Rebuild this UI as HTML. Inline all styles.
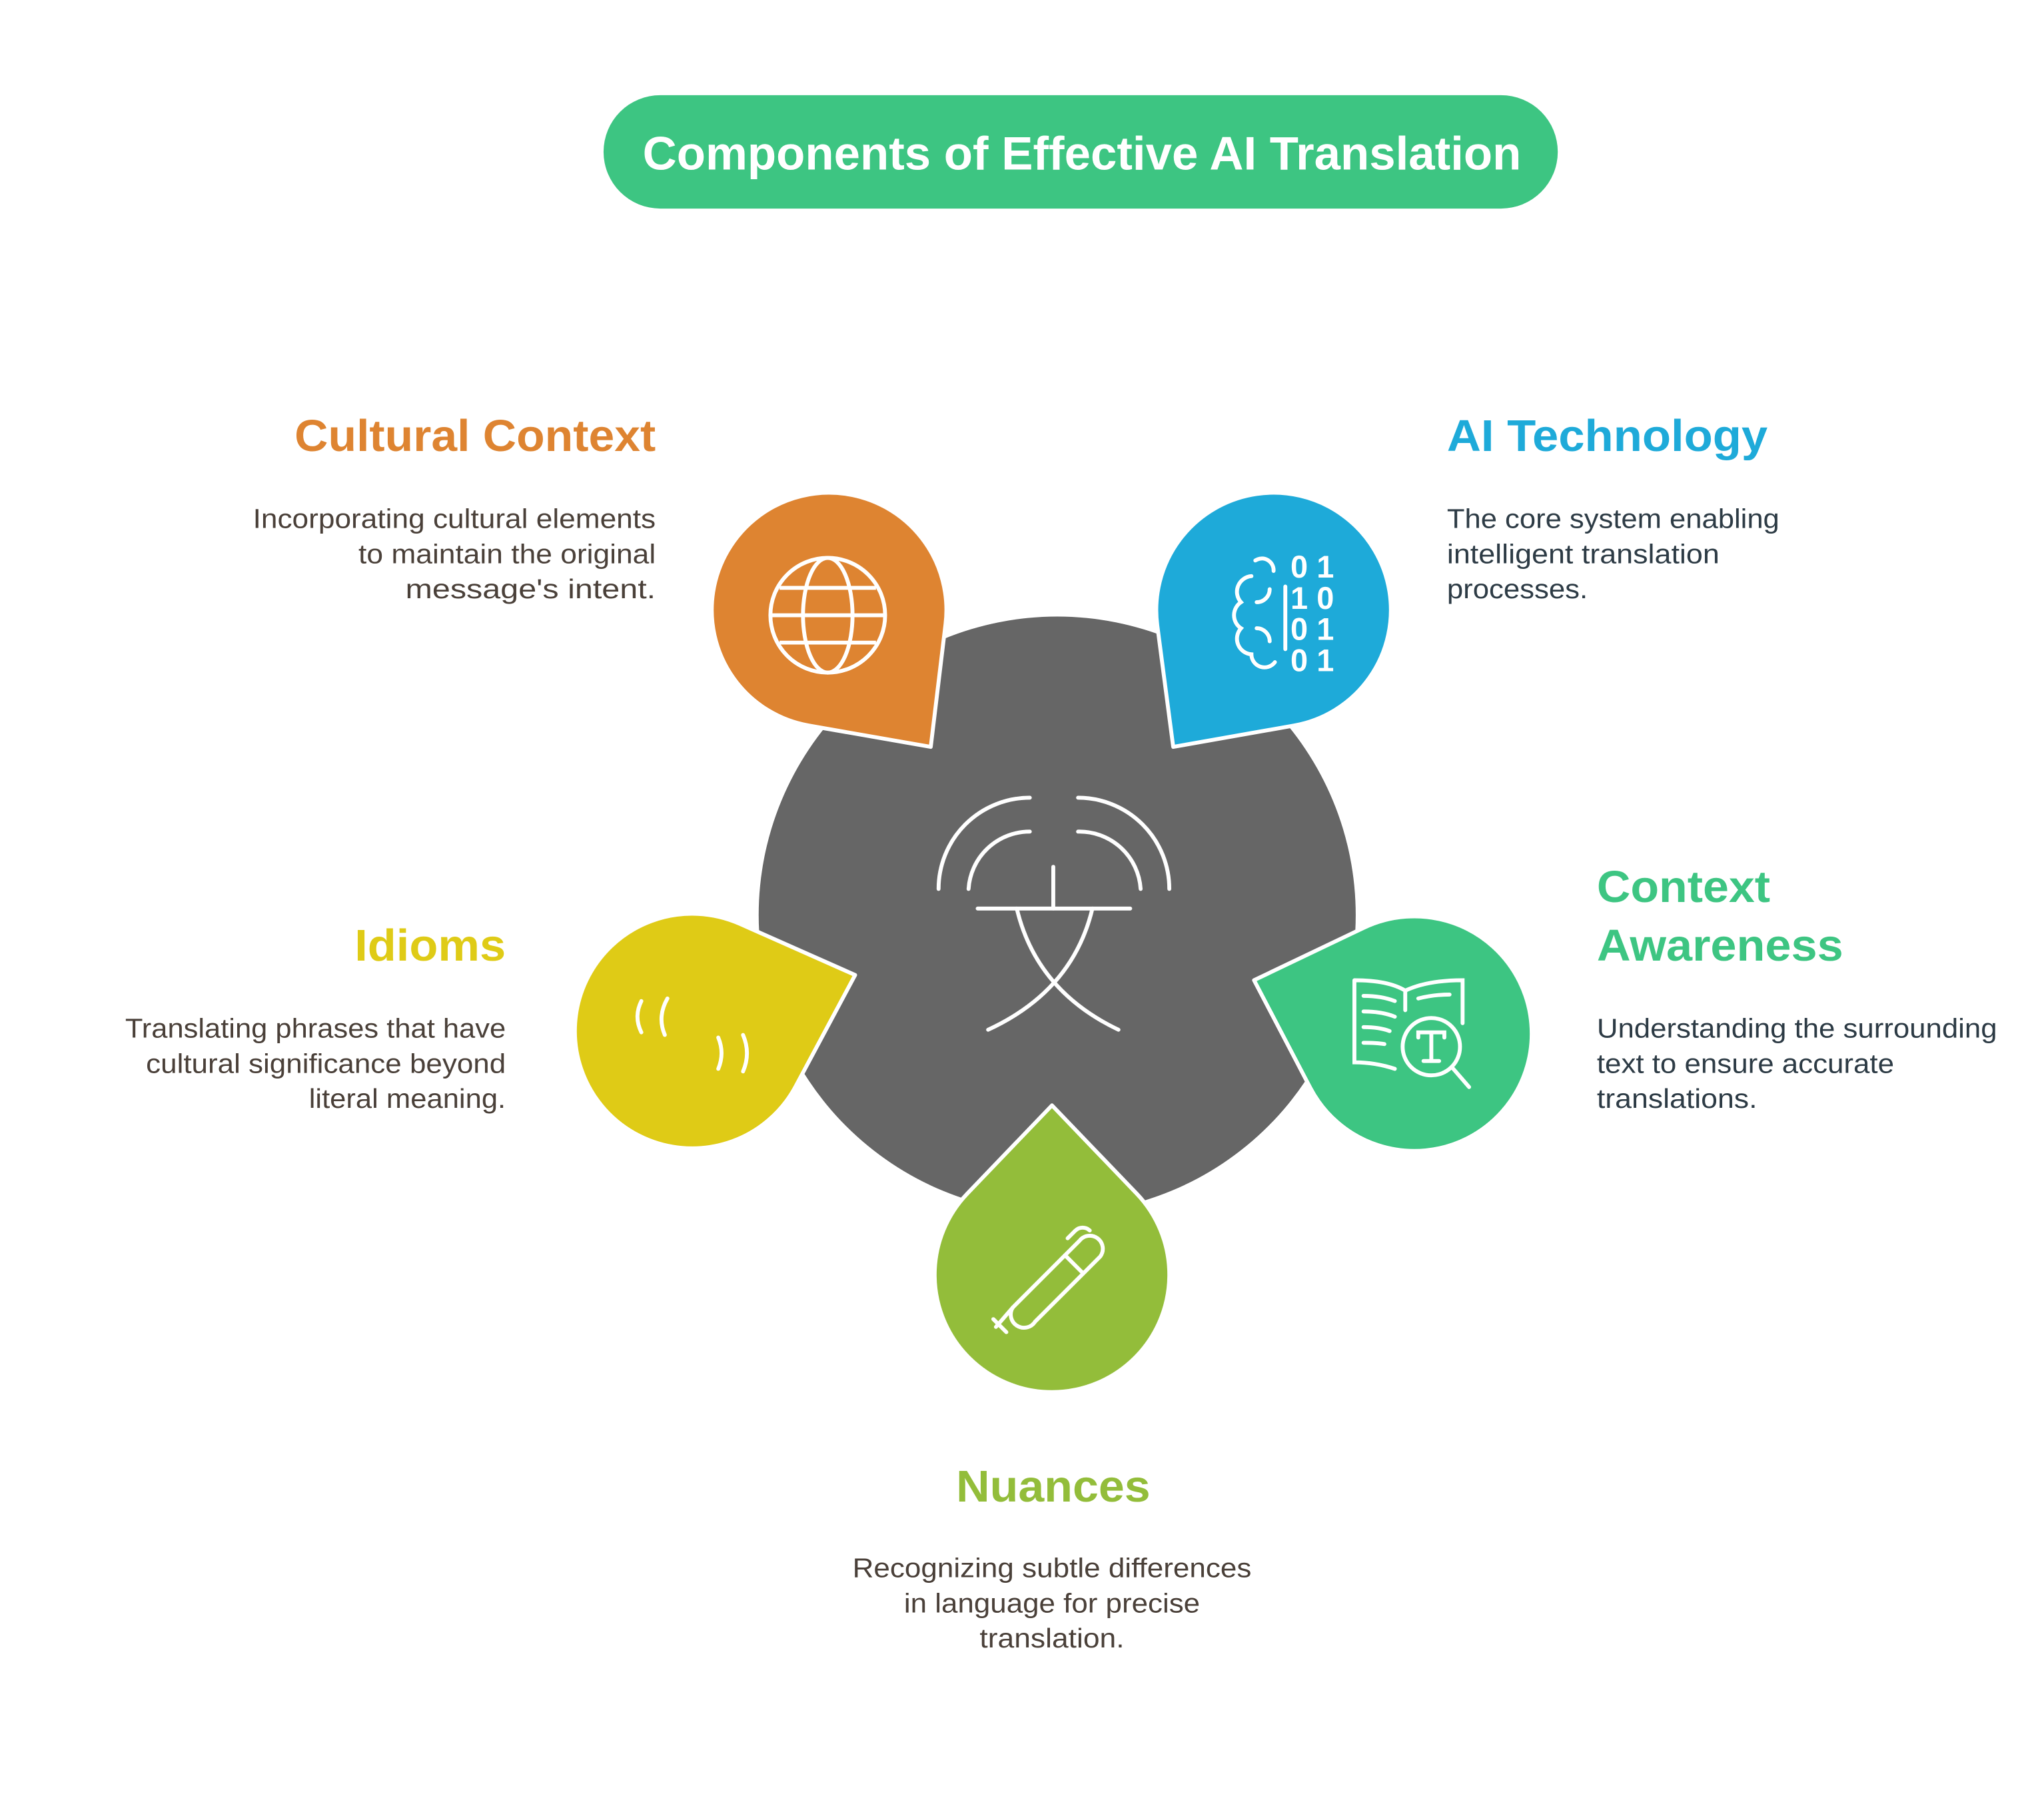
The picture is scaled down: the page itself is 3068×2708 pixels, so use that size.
<!DOCTYPE html>
<html><head><meta charset="utf-8"><style>
html,body{margin:0;padding:0;background:#fff;}
svg{display:block;}
text{font-family:"Liberation Sans",sans-serif;}
.h{font-weight:bold;font-size:34px;}
.b{font-size:21px;}
</style></head><body>
<svg id="chart" width="3068" height="2708" viewBox="0 0 1568 1384" preserveAspectRatio="none">
<rect x="0" y="0" width="1568" height="1384" fill="#fff"/>
<g>
<rect x="463" y="73" width="732" height="87" rx="43.5" fill="#3dc582"/>
<text x="830" y="130" text-anchor="middle" fill="#fff" font-weight="bold" font-size="36" textLength="674" lengthAdjust="spacingAndGlyphs">Components of Effective AI Translation</text>
</g>
<circle cx="811" cy="702" r="229" fill="#666666"/>
<g id="drops"></g>
<g fill="none" stroke="#fff" stroke-width="3" stroke-linecap="round">
<path d="M720 682 A70 70 0 0 1 790 612"/>
<path d="M827 612 A70 70 0 0 1 897 682"/>
<path d="M743 682 A47 47 0 0 1 790 638"/>
<path d="M827 638 A47 47 0 0 1 875 682"/>
<path d="M750 697 H867"/>
<path d="M808 665 V697"/>
<path d="M780 697 Q795 760 858 790"/>
<path d="M838 697 Q823 760 758 790"/>
</g>
<g fill="none" stroke="#fff" stroke-width="3">
<circle cx="635" cy="472" r="44"/>
<ellipse cx="635" cy="472" rx="19" ry="44"/>
<path d="M591 472 H679 M598 451 H672 M598 493 H672"/>
</g>
<g>
<path d="M963 430 a9 9 0 0 1 14 8 M960 442 a12 12 0 0 0 -8 20 a12 12 0 0 0 0 20 a12 12 0 0 0 8 20 a10 10 0 0 0 18 6 M974 452 a10 10 0 0 1 -10 10 M974 492 a10 10 0 0 0 -10 -10 M986 450 V498" fill="none" stroke="#fff" stroke-width="3" stroke-linecap="round"/>
<text x="990" y="443" fill="#fff" font-family="Liberation Mono,monospace" font-weight="bold" font-size="24">0 1</text>
<text x="990" y="467" fill="#fff" font-family="Liberation Mono,monospace" font-weight="bold" font-size="24">1 0</text>
<text x="990" y="491" fill="#fff" font-family="Liberation Mono,monospace" font-weight="bold" font-size="24">0 1</text>
<text x="990" y="515" fill="#fff" font-family="Liberation Mono,monospace" font-weight="bold" font-size="24">0 1</text>
</g>
<g fill="none" stroke="#fff" stroke-width="3" stroke-linecap="round">
<path d="M1039 752 V815 Q1055 815 1070 820 M1039 752 Q1065 752 1078 760 V775 M1078 760 Q1095 752 1122 752 V785"/>
<path d="M1046 764 Q1060 764 1070 768 M1046 776 Q1060 776 1070 780 M1046 788 Q1058 788 1066 791 M1046 800 Q1056 800 1062 801 M1088 766 Q1100 763 1112 763"/>
<circle cx="1098" cy="803" r="22"/>
<path d="M1114 819 L1127 834 M1088 796 V792 H1108 V796 M1098 792 V814 M1092 814 H1104"/>
</g>
<g fill="none" stroke="#fff" stroke-width="3" stroke-linecap="round">
<path d="M777 1003 L828 952 A10 10 0 0 1 844 964 L794 1014 A8 8 0 0 1 777 1003 Z"/>
<path d="M817 963 L830 976 M777 1003 L764 1018 M762 1012 L772 1022 M819 950 L825 944 A8 8 0 0 1 836 944"/>
</g>
<g fill="none" stroke="#fff" stroke-width="3" stroke-linecap="round">
<path d="M492 768 Q486 780 492 792 M512 766 Q504 780 510 794 M551 796 Q556 808 551 820 M570 794 Q576 808 570 822"/>
</g>
<g>
<text class="h" x="503" y="346" text-anchor="end" fill="#de8431" textLength="277" lengthAdjust="spacingAndGlyphs">Cultural Context</text>
<text class="b" x="503" y="405" text-anchor="end" fill="#4a4039" textLength="309" lengthAdjust="spacingAndGlyphs">Incorporating cultural elements</text>
<text class="b" x="503" y="432" text-anchor="end" fill="#4a4039" textLength="228" lengthAdjust="spacingAndGlyphs">to maintain the original</text>
<text class="b" x="503" y="459" text-anchor="end" fill="#4a4039" textLength="192" lengthAdjust="spacingAndGlyphs">message's intent.</text>
</g>
<g>
<text class="h" x="1110" y="346" fill="#1eaad9" textLength="246" lengthAdjust="spacingAndGlyphs">AI Technology</text>
<text class="b" x="1110" y="405" fill="#2d3b45" textLength="255" lengthAdjust="spacingAndGlyphs">The core system enabling</text>
<text class="b" x="1110" y="432" fill="#2d3b45" textLength="209" lengthAdjust="spacingAndGlyphs">intelligent translation</text>
<text class="b" x="1110" y="459" fill="#2d3b45" textLength="108" lengthAdjust="spacingAndGlyphs">processes.</text>
</g>
<g>
<text class="h" x="1225" y="692" fill="#3dc582" textLength="133" lengthAdjust="spacingAndGlyphs">Context</text>
<text class="h" x="1225" y="737" fill="#3dc582" textLength="189" lengthAdjust="spacingAndGlyphs">Awareness</text>
<text class="b" x="1225" y="796" fill="#2d3b45" textLength="307" lengthAdjust="spacingAndGlyphs">Understanding the surrounding</text>
<text class="b" x="1225" y="823" fill="#2d3b45" textLength="228" lengthAdjust="spacingAndGlyphs">text to ensure accurate</text>
<text class="b" x="1225" y="850" fill="#2d3b45" textLength="123" lengthAdjust="spacingAndGlyphs">translations.</text>
</g>
<g>
<text class="h" x="388" y="737" text-anchor="end" fill="#dfcb16" textLength="116" lengthAdjust="spacingAndGlyphs">Idioms</text>
<text class="b" x="388" y="796" text-anchor="end" fill="#4a4039" textLength="292" lengthAdjust="spacingAndGlyphs">Translating phrases that have</text>
<text class="b" x="388" y="823" text-anchor="end" fill="#4a4039" textLength="276" lengthAdjust="spacingAndGlyphs">cultural significance beyond</text>
<text class="b" x="388" y="850" text-anchor="end" fill="#4a4039" textLength="151" lengthAdjust="spacingAndGlyphs">literal meaning.</text>
</g>
<g>
<text class="h" x="808" y="1152" text-anchor="middle" fill="#93bd3a" textLength="149" lengthAdjust="spacingAndGlyphs">Nuances</text>
<text class="b" x="807" y="1210" text-anchor="middle" fill="#4a4039" textLength="306" lengthAdjust="spacingAndGlyphs">Recognizing subtle differences</text>
<text class="b" x="807" y="1237" text-anchor="middle" fill="#4a4039" textLength="227" lengthAdjust="spacingAndGlyphs">in language for precise</text>
<text class="b" x="807" y="1264" text-anchor="middle" fill="#4a4039" textLength="111" lengthAdjust="spacingAndGlyphs">translation.</text>
</g>
</svg>
<script>
const names=["cultural-context","ai-technology","context-awareness","nuances","idioms"];
const colors=["#de8431","#1eaad9","#3dc582","#93bd3a","#dfcb16"];
const centersX=[636,977,1085,807,531];
const centersY=[468,468,793,978,791];
const tipsX=[714,900,962,807,656];
const tipsY=[573,573,752,848,748];
const R=90;
const g=document.getElementById('drops');
const NS='http://www.w3.org/2000/svg';
for(let i=0;i<names.length;i++){
  const cx=centersX[i],cy=centersY[i],tx=tipsX[i],ty=tipsY[i];
  const dx=tx-cx,dy=ty-cy,d=Math.hypot(dx,dy);
  const th=Math.atan2(dy,dx),a=Math.acos(Math.min(1,R/d));
  const p1=[cx+R*Math.cos(th+a),cy+R*Math.sin(th+a)];
  const p2=[cx+R*Math.cos(th-a),cy+R*Math.sin(th-a)];
  const p=document.createElementNS(NS,'path');
  p.setAttribute('d',`M${tx} ${ty} L${p1[0]} ${p1[1]} A${R} ${R} 0 1 1 ${p2[0]} ${p2[1]} Z`);
  p.setAttribute('fill',colors[i]);
  p.setAttribute('stroke','#fff');
  p.setAttribute('stroke-width','3');
  p.setAttribute('stroke-linejoin','round');
  
  
  g.appendChild(p);
}
</script>
</body></html>
